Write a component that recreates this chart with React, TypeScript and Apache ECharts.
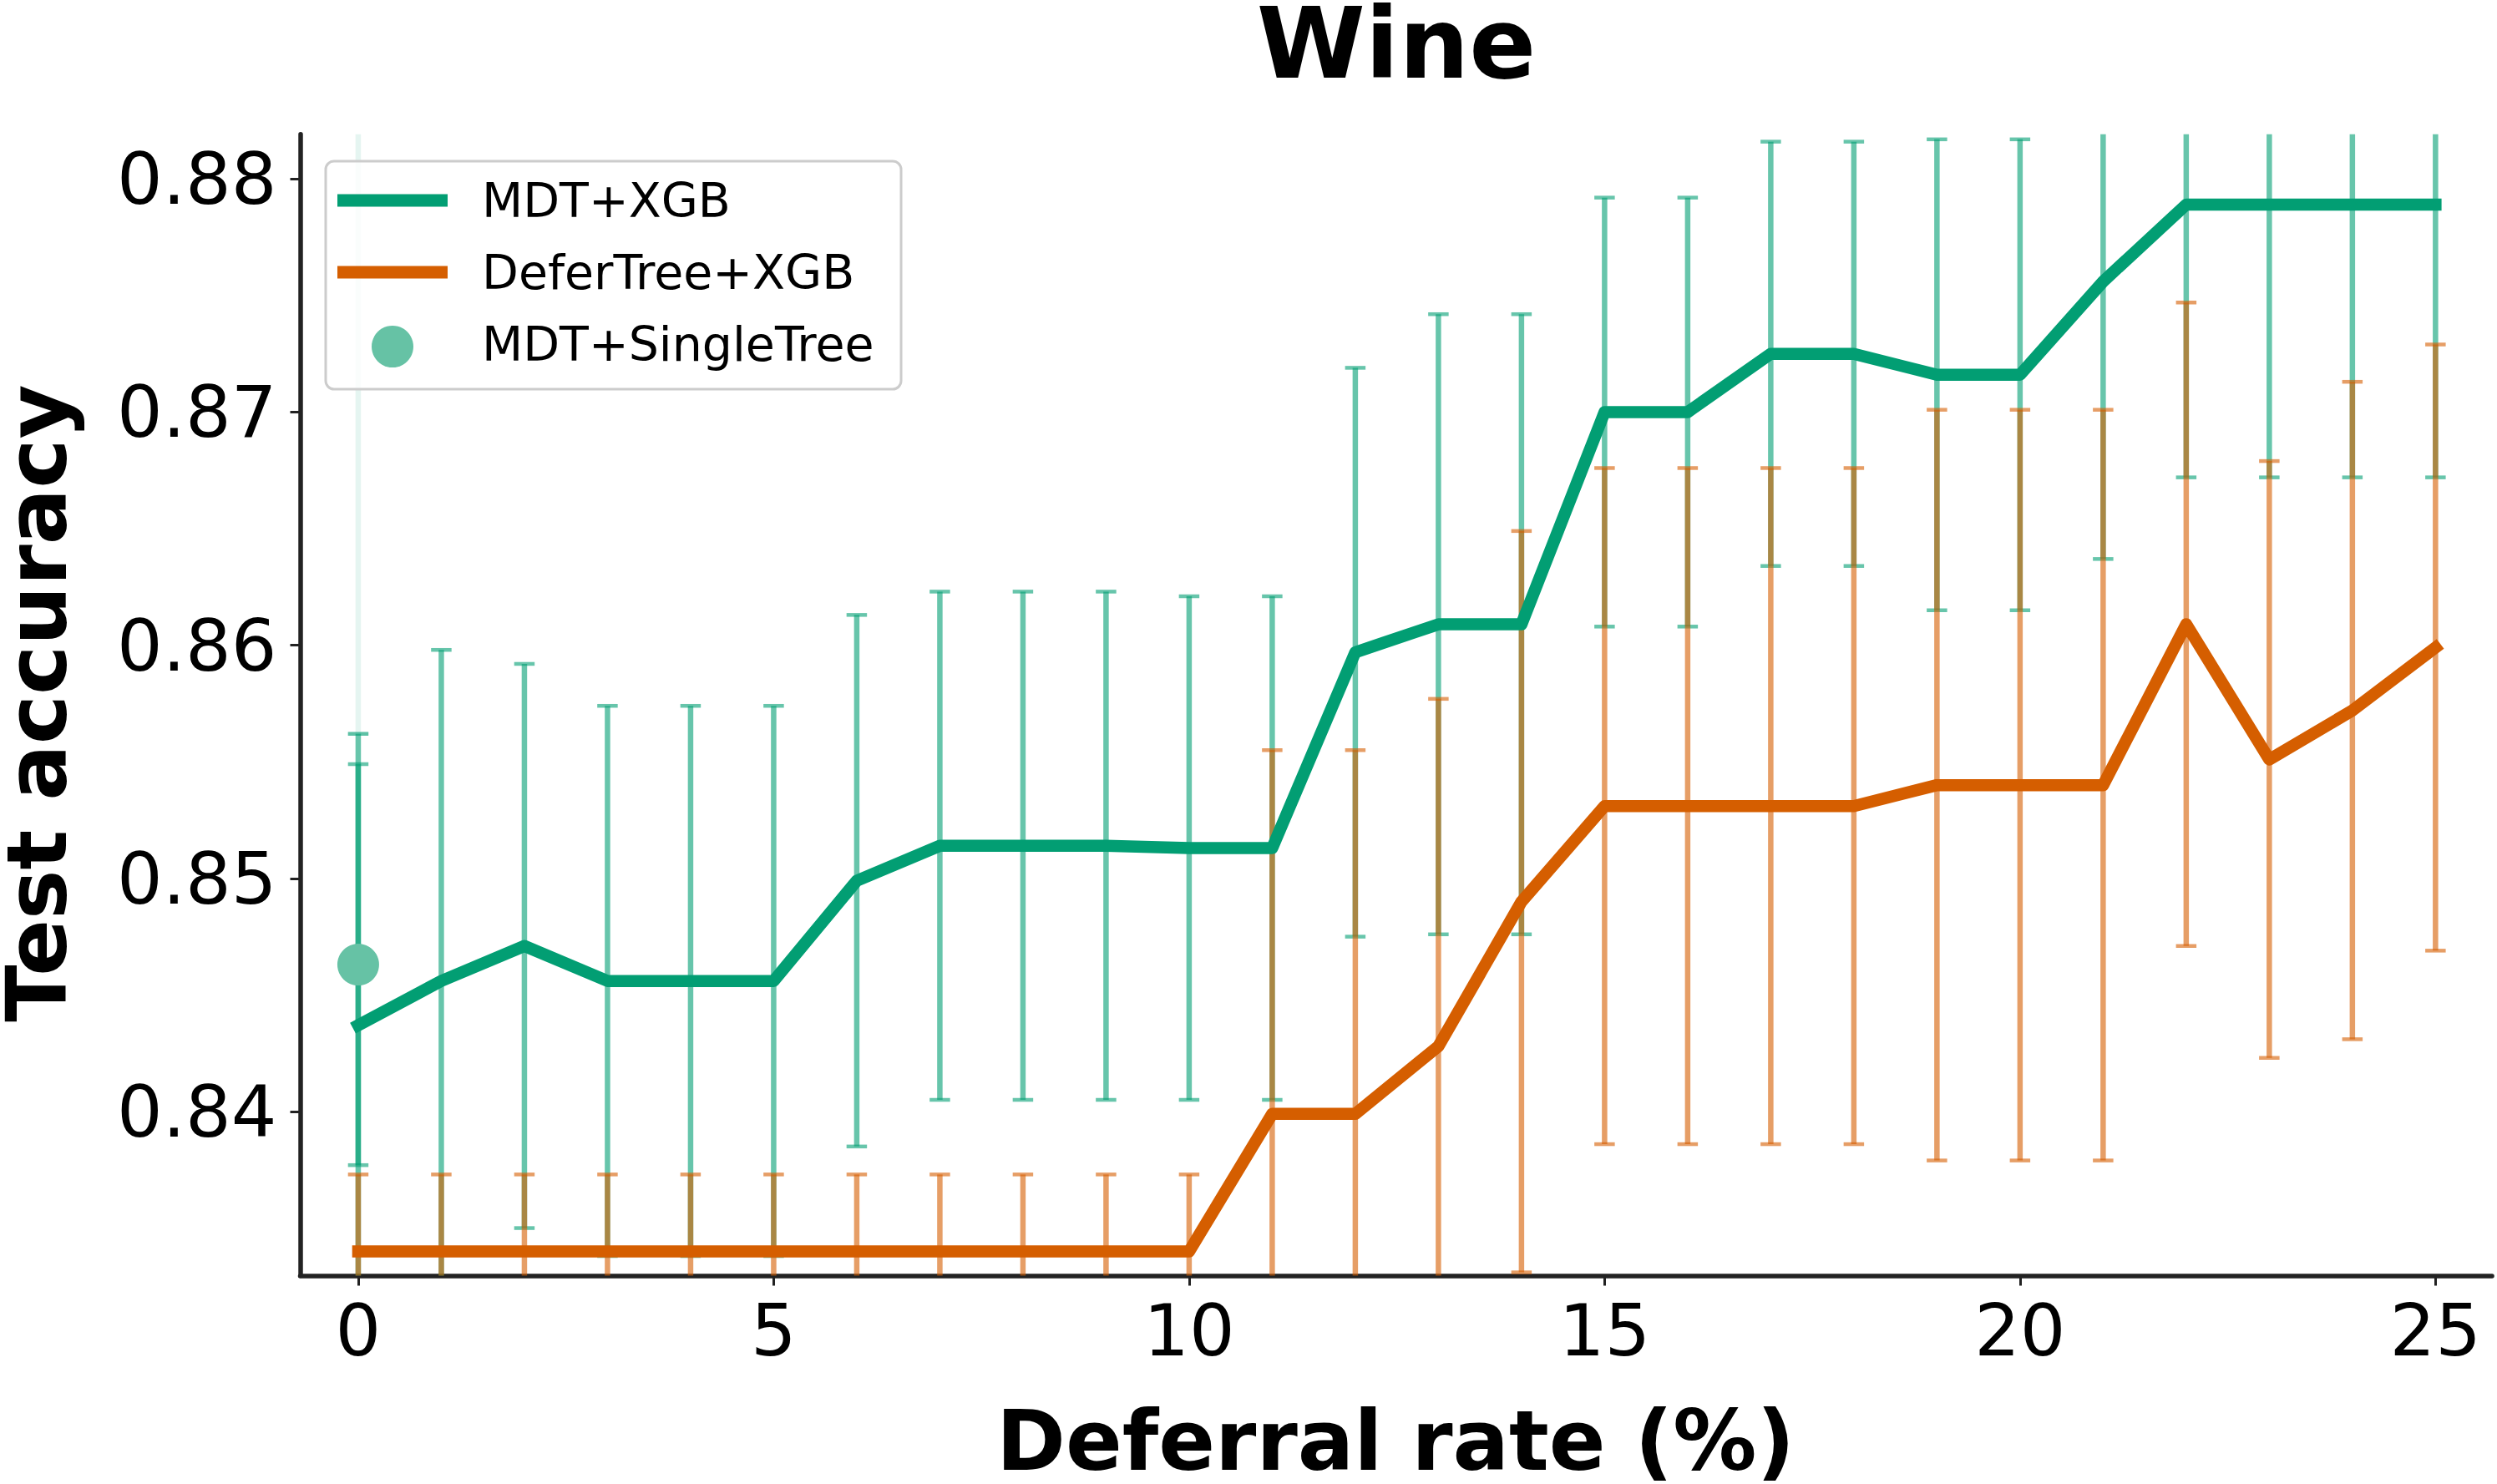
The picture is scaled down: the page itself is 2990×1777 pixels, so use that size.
import React, { useEffect, useRef } from "react";
import * as echarts from "echarts";

// ---- Data ----
const deferralRates = [0, 1, 2, 3, 4, 5, 6, 7, 8, 9, 10, 11, 12, 13, 14, 15, 16, 17, 18, 19, 20, 21, 22, 23, 24, 25];

const mdtXgbMean = [
  0.8437, 0.8456, 0.8471, 0.8456, 0.8456, 0.8456, 0.8499, 0.8514, 0.8514, 0.8514,
  0.8513, 0.8513, 0.8597, 0.8609, 0.8609, 0.87, 0.87, 0.8725, 0.8725, 0.8716,
  0.8716, 0.8756, 0.8789, 0.8789, 0.8789, 0.8789,
];
const mdtXgbStd = [
  0.0125, 0.0142, 0.0121, 0.0118, 0.0118, 0.0118, 0.0114, 0.0109, 0.0109, 0.0109,
  0.0108, 0.0108, 0.0122, 0.0133, 0.0133, 0.0092, 0.0092, 0.0091, 0.0091, 0.0101,
  0.0101, 0.0119, 0.0117, 0.0117, 0.0117, 0.0117,
];

const deferTreeMean = [
  0.834, 0.834, 0.834, 0.834, 0.834, 0.834, 0.834, 0.834, 0.834, 0.834,
  0.834, 0.8399, 0.8399, 0.8428, 0.849, 0.8531, 0.8531, 0.8531, 0.8531, 0.854,
  0.854, 0.854, 0.8609, 0.8551, 0.8572, 0.8599,
];
const deferTreeStd = [
  0.0033, 0.0033, 0.0033, 0.0033, 0.0033, 0.0033, 0.0033, 0.0033, 0.0033, 0.0033,
  0.0033, 0.0156, 0.0156, 0.0149, 0.0159, 0.0145, 0.0145, 0.0145, 0.0145, 0.0161,
  0.0161, 0.0161, 0.0138, 0.0128, 0.0141, 0.013,
];

const singleTreeX = [0];
const singleTreeMean = [0.8463];
const singleTreeStd = [0.0086];

// faint vertical band seen above the x = 0 error bars
const faintBarX = [0];
const faintBarLow = [0.8562];
const faintBarHigh = [0.9];

const xTicks = [0, 5, 10, 15, 20, 25];
const yTicks = [0.84, 0.85, 0.86, 0.87, 0.88];

const seriesNames = ["MDT+XGB", "DeferTree+XGB", "MDT+SingleTree"];
const titleText = "Wine";
const xAxisTitle = "Deferral rate (%)";
const yAxisTitle = "Test accuracy";

// ---- Styling ----
const GREEN = "#029E73";
const ORANGE = "#D55E00";
const GREEN_BAR = "rgba(2,158,115,0.6)";
const ORANGE_BAR = "rgba(213,94,0,0.6)";
const DOT = "#66C2A5";
const FONT = "DejaVu Sans";

const Y_MIN = 0.83296;
const Y_MAX = 0.88192;
const X_MIN = -0.698;
const X_MAX = 25.68;

function makeErrorRenderer(color: string, lineWidth: number, capHalf: number, capWidth: number) {
  return (params: any, api: any) => {
    const x = api.value(0);
    const lo = api.value(1);
    const hi = api.value(2);
    const loC = Math.max(lo, Y_MIN);
    const hiC = Math.min(hi, Y_MAX);
    const pLo = api.coord([x, loC]);
    const pHi = api.coord([x, hiC]);
    const children: any[] = [
      {
        type: "line",
        shape: { x1: pLo[0], y1: pLo[1], x2: pHi[0], y2: pHi[1] },
        style: { stroke: color, lineWidth, lineCap: "butt" },
      },
    ];
    if (lo >= Y_MIN) {
      children.push({
        type: "line",
        shape: { x1: pLo[0] - capHalf, y1: pLo[1], x2: pLo[0] + capHalf, y2: pLo[1] },
        style: { stroke: color, lineWidth: capWidth },
      });
    }
    if (hi <= Y_MAX) {
      children.push({
        type: "line",
        shape: { x1: pHi[0] - capHalf, y1: pHi[1], x2: pHi[0] + capHalf, y2: pHi[1] },
        style: { stroke: color, lineWidth: capWidth },
      });
    }
    return { type: "group", children };
  };
}

export default function App() {
  const ref = useRef<HTMLDivElement>(null);

  useEffect(() => {
    if (!ref.current) return;
    const chart = echarts.init(ref.current, undefined, { renderer: "svg" });

    const greenErr = deferralRates.map((x, i) => [x, mdtXgbMean[i] - mdtXgbStd[i], mdtXgbMean[i] + mdtXgbStd[i]]);
    const orangeErr = deferralRates.map((x, i) => [x, deferTreeMean[i] - deferTreeStd[i], deferTreeMean[i] + deferTreeStd[i]]);
    const singleErr = singleTreeX.map((x, i) => [x, singleTreeMean[i] - singleTreeStd[i], singleTreeMean[i] + singleTreeStd[i]]);
    const faintErr = faintBarX.map((x, i) => [x, faintBarLow[i], faintBarHigh[i]]);

    const axisColor = "#222222";

    const option: any = {
      animation: false,
      backgroundColor: "#ffffff",
      grid: { left: 359.5, right: 6, top: 160.7, bottom: 249.5, containLabel: false },
      xAxis: {
        type: "value",
        min: X_MIN,
        max: X_MAX,
        axisLine: { show: true, onZero: false, lineStyle: { color: axisColor, width: 5.5 } },
        axisTick: { show: true, customValues: xTicks, length: 12, lineStyle: { color: axisColor, width: 3 } },
        axisLabel: {
          show: true,
          customValues: xTicks,
          formatter: (v: number) => String(Math.round(v)),
          fontFamily: FONT,
          fontSize: 86,
          color: "#000",
          margin: 22,
        },
        splitLine: { show: false },
      },
      yAxis: {
        type: "value",
        min: Y_MIN,
        max: Y_MAX,
        axisLine: { show: true, onZero: false, lineStyle: { color: axisColor, width: 5.5 } },
        axisTick: { show: true, customValues: yTicks, length: 12, lineStyle: { color: axisColor, width: 3 } },
        axisLabel: {
          show: true,
          customValues: yTicks,
          formatter: (v: number) => v.toFixed(2),
          fontFamily: FONT,
          fontSize: 86,
          color: "#000",
          margin: 28,
        },
        splitLine: { show: false },
      },
      series: [
        {
          type: "custom",
          name: "faint",
          renderItem: makeErrorRenderer("rgba(2,158,115,0.1)", 6.5, 12.25, 4.5),
          data: faintErr,
          z: 2,
          silent: true,
        },
        {
          type: "custom",
          name: seriesNames[0] + " err",
          renderItem: makeErrorRenderer(GREEN_BAR, 6.5, 12.25, 4.5),
          data: greenErr,
          z: 2,
          silent: true,
        },
        {
          type: "custom",
          name: seriesNames[2] + " err",
          renderItem: makeErrorRenderer(GREEN_BAR, 6.5, 12.25, 4.5),
          data: singleErr,
          z: 2,
          silent: true,
        },
        {
          type: "custom",
          name: seriesNames[1] + " err",
          renderItem: makeErrorRenderer(ORANGE_BAR, 6.5, 12.25, 4.5),
          data: orangeErr,
          z: 2,
          silent: true,
        },
        {
          type: "line",
          name: seriesNames[0],
          data: deferralRates.map((x, i) => [x, mdtXgbMean[i]]),
          showSymbol: false,
          symbol: "none",
          lineStyle: { color: GREEN, width: 14.5, cap: "square", join: "round" },
          z: 3,
        },
        {
          type: "line",
          name: seriesNames[1],
          data: deferralRates.map((x, i) => [x, deferTreeMean[i]]),
          showSymbol: false,
          symbol: "none",
          lineStyle: { color: ORANGE, width: 14.5, cap: "square", join: "round" },
          z: 3,
        },
        {
          type: "scatter",
          name: seriesNames[2],
          data: singleTreeX.map((x, i) => [x, singleTreeMean[i]]),
          symbol: "circle",
          symbolSize: 50,
          itemStyle: { color: DOT, opacity: 1 },
          z: 4,
        },
      ],
      graphic: [
        {
          type: "text",
          x: 1672,
          y: 52,
          style: {
            text: titleText,
            font: `bold 118px "${FONT}"`,
            fill: "#000",
            align: "center",
            verticalAlign: "middle",
          },
          z: 100,
        },
        {
          type: "text",
          x: 1671,
          y: 1725,
          style: {
            text: xAxisTitle,
            font: `bold 100px "${FONT}"`,
            fill: "#000",
            align: "center",
            verticalAlign: "middle",
          },
          z: 100,
        },
        {
          type: "text",
          x: 44,
          y: 842,
          rotation: Math.PI / 2,
          style: {
            text: yAxisTitle,
            font: `bold 100px "${FONT}"`,
            fill: "#000",
            align: "center",
            verticalAlign: "middle",
          },
          z: 100,
        },
        // legend
        {
          type: "rect",
          shape: { x: 390, y: 193, width: 689, height: 273, r: 10 },
          style: { fill: "rgba(255,255,255,0.8)", stroke: "#cccccc", lineWidth: 3 },
          z: 100,
        },
        {
          type: "line",
          shape: { x1: 404, y1: 240, x2: 536, y2: 240 },
          style: { stroke: GREEN, lineWidth: 15 },
          z: 101,
        },
        {
          type: "line",
          shape: { x1: 404, y1: 326, x2: 536, y2: 326 },
          style: { stroke: ORANGE, lineWidth: 15 },
          z: 101,
        },
        {
          type: "circle",
          shape: { cx: 470, cy: 415, r: 25 },
          style: { fill: DOT },
          z: 101,
        },
        ...seriesNames.map((name, i) => ({
          type: "text",
          x: 577,
          y: [240, 326, 412][i],
          style: {
            text: name,
            font: `57px "${FONT}"`,
            fill: "#000",
            align: "left",
            verticalAlign: "middle",
          },
          z: 101,
        })),
      ],
    };

    chart.setOption(option);
    return () => {
      chart.dispose();
    };
  }, []);

  return (
    <div
      ref={ref}
      style={{ position: "absolute", left: 0, top: 0, width: 2990, height: 1777, background: "#fff" }}
    />
  );
}
